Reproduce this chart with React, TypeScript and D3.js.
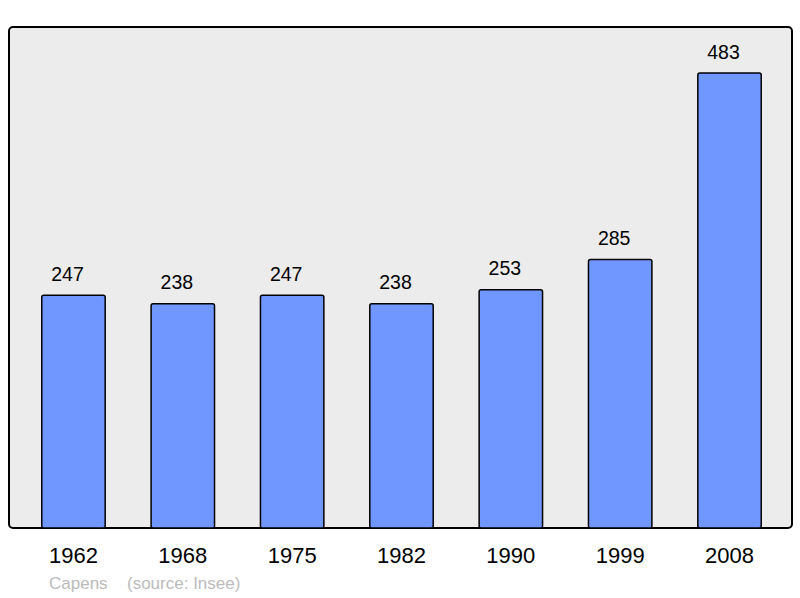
import React from "react";
import * as d3 from "d3";

const years = ["1962", "1968", "1975", "1982", "1990", "1999", "2008"];
const population = [247, 238, 247, 238, 253, 285, 483];
const footerName = "Capens";
const footerSource = "(source: Insee)";

const W = 800;
const H = 598;
const panel = { x: 9, y: 27, w: 783, h: 501 };

export default function App() {
  const x = d3
    .scaleBand<string>()
    .domain(years)
    .range([18.8, 784.2])
    .paddingInner(0.42)
    .paddingOuter(0.21);
  const y = d3.scaleLinear().domain([0, 483]).range([528, 73]);
  const font = "Liberation Sans, Arial, sans-serif";
  return (
    <svg
      width={W}
      height={H}
      style={{ position: "absolute", left: 0, top: 0 }}
    >
      <rect width={W} height={H} fill="#ffffff" />
      <rect
        x={panel.x}
        y={panel.y}
        width={panel.w}
        height={panel.h}
        rx={4}
        fill="#ececec"
        stroke="#000"
        strokeWidth={2}
      />
      {years.map((yr, i) => {
        const v = population[i];
        const bx = x(yr)!;
        const bw = x.bandwidth();
        return (
          <g key={yr}>
            <rect
              x={bx}
              y={y(v)}
              width={bw}
              height={y(0) - y(v)}
              rx={2}
              fill="#7097ff"
              stroke="#000"
              strokeWidth={1.5}
            />
            <text
              x={bx + bw / 2 - 6}
              y={y(v) - 14.5}
              textAnchor="middle"
              fontFamily={font}
              fontSize={19.5}
              fill="#000"
            >
              {v}
            </text>
            <text
              x={bx + bw / 2}
              y={563}
              textAnchor="middle"
              fontFamily={font}
              fontSize={22}
              fill="#000"
            >
              {yr}
            </text>
          </g>
        );
      })}
      <text x={49} y={589} fontFamily={font} fontSize={17} fill="#bbbbbb">
        {footerName}
      </text>
      <text x={127} y={589} fontFamily={font} fontSize={17} fill="#bbbbbb">
        {footerSource}
      </text>
    </svg>
  );
}
